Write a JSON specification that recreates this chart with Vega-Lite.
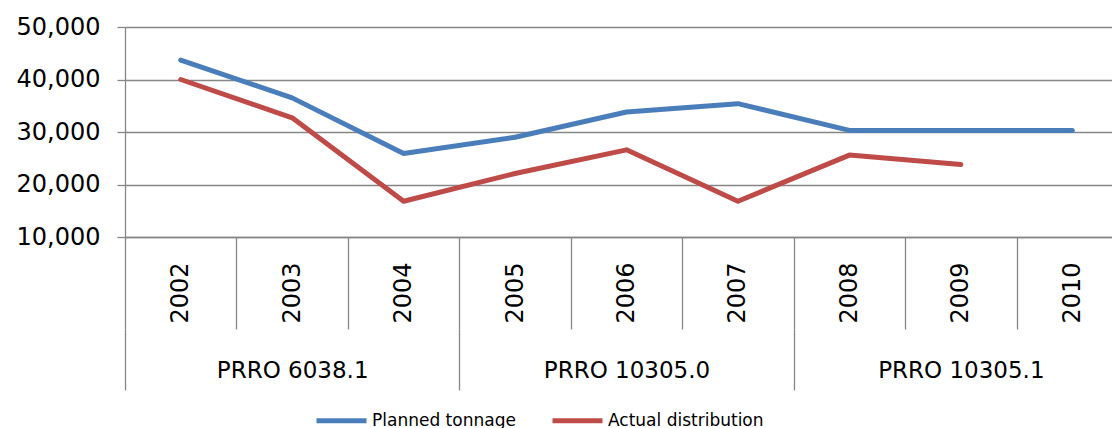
{
  "$schema": "https://vega.github.io/schema/vega-lite/v6.json",
  "width": 987,
  "height": 210,
  "autosize": {"type": "none"},
  "padding": {"left": 125, "top": 27, "right": 0, "bottom": 191},
  "background": "white",
  "config": {
    "view": {"stroke": null},
    "font": "DejaVu Sans",
    "axis": {"labelFont": "DejaVu Sans", "labelColor": "#000000", "domainColor": "#868686", "tickColor": "#868686", "gridColor": "#868686", "domainWidth": 1.3, "tickWidth": 1.3, "gridWidth": 1.3}
  },
  "datasets": {
    "series": [
      {"year": "2002", "prro": "PRRO 6038.1", "series": "Planned tonnage", "value": 43700},
      {"year": "2003", "prro": "PRRO 6038.1", "series": "Planned tonnage", "value": 36500},
      {"year": "2004", "prro": "PRRO 6038.1", "series": "Planned tonnage", "value": 25900},
      {"year": "2005", "prro": "PRRO 10305.0", "series": "Planned tonnage", "value": 29000},
      {"year": "2006", "prro": "PRRO 10305.0", "series": "Planned tonnage", "value": 33800},
      {"year": "2007", "prro": "PRRO 10305.0", "series": "Planned tonnage", "value": 35400},
      {"year": "2008", "prro": "PRRO 10305.1", "series": "Planned tonnage", "value": 30300},
      {"year": "2009", "prro": "PRRO 10305.1", "series": "Planned tonnage", "value": 30300},
      {"year": "2010", "prro": "PRRO 10305.1", "series": "Planned tonnage", "value": 30300},
      {"year": "2002", "prro": "PRRO 6038.1", "series": "Actual distribution", "value": 40000},
      {"year": "2003", "prro": "PRRO 6038.1", "series": "Actual distribution", "value": 32700},
      {"year": "2004", "prro": "PRRO 6038.1", "series": "Actual distribution", "value": 16800},
      {"year": "2005", "prro": "PRRO 10305.0", "series": "Actual distribution", "value": 22100},
      {"year": "2006", "prro": "PRRO 10305.0", "series": "Actual distribution", "value": 26600},
      {"year": "2007", "prro": "PRRO 10305.0", "series": "Actual distribution", "value": 16800},
      {"year": "2008", "prro": "PRRO 10305.1", "series": "Actual distribution", "value": 25600},
      {"year": "2009", "prro": "PRRO 10305.1", "series": "Actual distribution", "value": 23800}
    ],
    "groups": [
      {"prro": "PRRO 6038.1"},
      {"prro": "PRRO 10305.0"},
      {"prro": "PRRO 10305.1"}
    ]
  },
  "layer": [
    {
      "data": {"name": "series"},
      "mark": {"type": "line", "strokeWidth": 5, "strokeCap": "round", "strokeJoin": "round"},
      "encoding": {
        "x": {
          "field": "year", "type": "ordinal",
          "scale": {"type": "band", "range": [0, 1003], "paddingInner": 0, "paddingOuter": 0},
          "axis": {"title": null, "orient": "bottom", "tickBand": "extent", "tickSize": 92, "labelAngle": 270, "labelPadding": -67, "labelFontSize": 24, "domain": true}
        },
        "y": {
          "field": "value", "type": "quantitative",
          "scale": {"domain": [10000, 50000], "nice": false, "zero": false},
          "axis": {"title": null, "values": [10000, 20000, 30000, 40000, 50000], "format": ",d", "grid": true, "tickSize": 8, "labelPadding": 17, "labelFontSize": 24}
        },
        "color": {
          "field": "series", "type": "nominal",
          "scale": {"domain": ["Planned tonnage", "Actual distribution"], "range": ["#4A7EBB", "#BE4B48"]},
          "legend": {"title": null, "orient": "none", "direction": "horizontal", "legendX": 189, "legendY": 366, "symbolType": "stroke", "symbolSize": 2500, "symbolStrokeWidth": 5, "labelFontSize": 17, "labelColor": "#000000", "labelOffset": 3, "columnPadding": 26, "labelLimit": 400, "padding": 0}
        },
        "order": {"field": "year"}
      }
    },
    {
      "data": {"name": "groups"},
      "mark": {"type": "rule", "opacity": 0},
      "encoding": {
        "x": {
          "field": "prro", "type": "nominal", "sort": null,
          "scale": {"type": "band", "range": [0, 1003], "paddingInner": 0, "paddingOuter": 0},
          "axis": {"title": null, "orient": "bottom", "offset": 92, "tickBand": "extent", "tickSize": 61, "labelAngle": 0, "labelPadding": -31, "labelFontSize": 23, "domain": false}
        }
      }
    }
  ],
  "resolve": {"scale": {"x": "independent"}, "axis": {"x": "independent"}}
}
